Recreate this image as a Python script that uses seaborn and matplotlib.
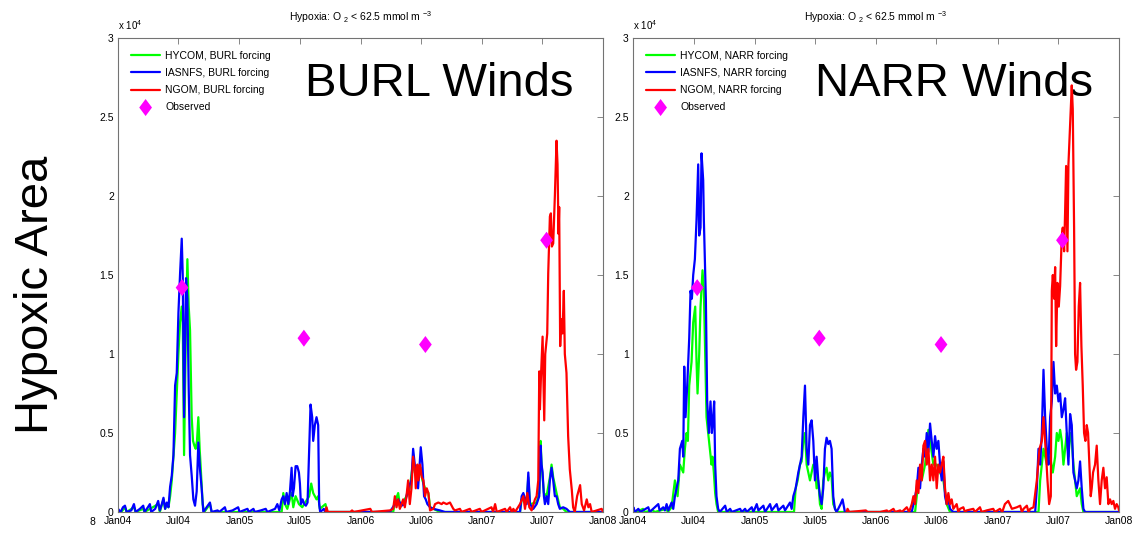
import numpy as np
import pandas as pd
import matplotlib
matplotlib.use("Agg")
import matplotlib.pyplot as plt
import matplotlib.dates as mdates
from matplotlib.ticker import FuncFormatter, MultipleLocator
import seaborn as sns

sns.set_style("white")
plt.rcParams["font.family"] = ["Liberation Sans Narrow", "Liberation Sans", "DejaVu Sans"]
plt.rcParams["mathtext.default"] = "regular"
plt.rcParams["text.color"] = "black"

# (day since 2004-01-01, hypoxic area in units of 1e4)
burl_hycom = [(0,0.01),(10,0),(21,0.03),(26,0),(48,0.03),(53,0),(76,0.02),(80,0),(121,0.05),(126,0),
              (137,0.08),(142,0.02),(147,0.05),(152,0.03),(157,0.1),(162,0.2),(167,0.35),(172,0.5),(177,0.75),
              (182,1.0),(187,1.2),(192,1.3),(195,1.2),(199,0.36),(205,1.2),(209,1.6),(213,1.3),(217,1.15),
              (222,0.6),(226,0.45),(230,0.42),(234,0.4),(238,0.45),(242,0.6),(246,0.4),(250,0.25),(255,0.05),
              (260,0),(277,0.05),(282,0),(493,0),(498,0.12),(503,0.05),(510,0.02),(523,0.12),(528,0.03),
              (535,0.1),(545,0.05),(555,0.03),(576,0.1),(582,0.18),(588,0.12),(598,0.08),(603,0.1),(608,0.02),
              (625,0.05),(630,0),(829,0),(834,0.06),(844,0.12),(850,0.03),(869,0.1),(879,0.15),(889,0.32),
              (894,0.25),(904,0.2),(912,0.28),(917,0.2),(925,0.15),(935,0.12),(940,0.03),(950,0.02),(970,0),
              (1211,0),(1216,0.08),(1221,0.1),(1231,0.06),(1236,0.22),(1241,0.05),(1261,0.06),(1269,0.12),
              (1273,0.45),(1276,0.3),(1283,0.12),(1291,0.1),(1301,0.22),(1306,0.3),(1311,0.22),(1321,0.12),
              (1331,0.03),(1341,0.02),(1351,0),(1461,0)]

burl_iasnfs = [(0,0.02),(8,0),(15,0.03),(21,0.04),(26,0),(40,0.01),(48,0.05),(53,0),(66,0.02),(76,0.04),
               (80,0),(90,0.03),(96,0.05),(100,0),(112,0.02),(121,0.07),(126,0.01),(132,0.05),(137,0.09),
               (142,0.02),(147,0.06),(152,0.03),(157,0.16),(162,0.23),(167,0.36),(172,0.8),(177,0.88),
               (182,1.26),(187,1.51),(192,1.73),(195,1.5),(199,0.6),(205,1.48),(209,1.35),(213,0.78),
               (217,0.36),(222,0.23),(227,0.08),(232,0.04),(237,0.13),(242,0.44),(247,0.27),(252,0.15),
               (257,0),(277,0.06),(282,0),(300,0.01),(305,0),(322,0.03),(326,0),(345,0.01),(362,0.03),
               (366,0),(390,0.02),(394,0),(408,0.02),(412,0),(430,0.01),(445,0.02),(450,0),(473,0.02),
               (480,0.05),(486,0.01),(493,0.08),(498,0.1),(503,0.05),(508,0.12),(513,0.05),(518,0.13),
               (523,0.28),(526,0.1),(530,0.15),(535,0.29),(540,0.29),(545,0.25),(548,0.18),(551,0.05),
               (556,0.08),(561,0.05),(566,0.04),(571,0.06),(576,0.4),(580,0.68),(585,0.6),(588,0.45),
               (593,0.55),(598,0.6),(603,0.55),(606,0.05),(609,0),(620,0.02),(624,0),(819,0),(834,0.05),
               (844,0.08),(854,0.04),(864,0.05),(874,0.15),(884,0.2),(889,0.4),(894,0.3),(899,0.25),
               (904,0.15),(912,0.41),(917,0.3),(922,0.1),(927,0.08),(932,0.05),(940,0.03),(950,0.02),
               (970,0.01),(985,0),(1211,0),(1216,0.1),(1221,0.12),(1231,0.05),(1236,0.25),(1241,0.05),
               (1251,0.02),(1261,0.05),(1269,0.1),(1273,0.42),(1276,0.3),(1279,0.25),(1283,0.1),(1286,0.05),
               (1291,0.1),(1296,0.05),(1301,0.2),(1306,0.28),(1311,0.2),(1316,0.1),(1321,0.1),(1326,0.05),
               (1331,0.02),(1341,0.03),(1351,0.02),(1361,0),(1461,0)]

burl_ngom = [(625,0),(628,0.03),(632,0),(700,0),(705,0.01),(710,0),(760,0.02),(765,0),(819,0.01),(829,0.02),
             (834,0.1),(839,0.03),(844,0.08),(849,0.02),(854,0.05),(859,0.08),(864,0.03),(869,0.1),(874,0.2),
             (879,0.05),(884,0.15),(889,0.35),(894,0.28),(897,0.15),(902,0.3),(905,0.2),(910,0.3),(915,0.22),
             (920,0.2),(925,0.1),(930,0.15),(935,0.12),(940,0.01),(950,0.02),(955,0.05),(965,0.06),(975,0.05),
             (980,0.06),(990,0.05),(1000,0.06),(1005,0.04),(1010,0.02),(1015,0.01),(1030,0.02),(1035,0),
             (1060,0.02),(1065,0),(1090,0.02),(1095,0),(1125,0.03),(1130,0),(1136,0.05),(1141,0),(1166,0.02),
             (1171,0),(1181,0.03),(1186,0),(1191,0.02),(1196,0),(1211,0.05),(1221,0.1),(1226,0.02),(1233,0.12),
             (1239,0.03),(1246,0.01),(1256,0.08),(1261,0.1),(1266,0.2),(1269,0.89),(1271,0.65),(1274,0.85),
             (1279,1.11),(1284,0.58),(1287,1.0),(1293,1.13),(1296,1.51),(1301,1.87),(1304,1.89),(1307,1.68),
             (1311,1.7),(1316,2.0),(1321,2.35),(1324,2.2),(1327,1.76),(1329,1.93),(1332,1.05),(1335,1.22),
             (1339,1.13),(1343,1.4),(1346,1.0),(1351,0.88),(1356,0.48),(1361,0.27),(1367,0.14),(1371,0.03),
             (1376,0),(1383,0.1),(1392,0.17),(1397,0.05),(1404,0.01),(1412,0.08),(1417,0.03),(1422,0.05),
             (1427,0),(1442,0.01),(1457,0.02),(1461,0)]

narr_hycom = [(0,0.01),(10,0),(30,0.02),(35,0),(60,0.01),(65,0),(100,0.02),(105,0),(116,0.03),(126,0.2),
              (134,0.1),(141,0.3),(151,0.25),(156,0.4),(161,0.5),(165,0.45),(169,0.8),(176,0.95),(181,1.2),
              (187,1.3),(191,0.95),(194,0.75),(199,1.0),(203,1.3),(209,1.53),(213,1.4),(217,1.0),(221,0.6),
              (226,0.5),(231,0.4),(236,0.3),(239,0.35),(243,0.25),(247,0.12),(251,0.05),(256,0),(484,0),
              (489,0.15),(495,0.2),(502,0.3),(507,0.32),(512,0.45),(517,0.5),(522,0.3),(527,0.25),(532,0.2),
              (537,0.25),(542,0.3),(547,0.28),(552,0.15),(557,0.2),(562,0.05),(567,0.02),(572,0.2),(577,0.25),
              (582,0.28),(587,0.2),(592,0.25),(597,0.22),(602,0.05),(612,0),(848,0),(853,0.1),(861,0.25),
              (868,0.2),(878,0.3),(888,0.52),(893,0.45),(903,0.3),(913,0.3),(923,0.25),(933,0.2),(943,0.05),
              (953,0),(1219,0),(1224,0.2),(1234,0.4),(1244,0.3),(1254,0.35),(1262,0.25),(1269,0.35),
              (1274,0.5),(1279,0.45),(1284,0.52),(1289,0.45),(1294,0.3),(1299,0.4),(1304,0.5),(1309,0.35),
              (1314,0.5),(1319,0.45),(1324,0.3),(1334,0.1),(1344,0.15),(1349,0.05),(1354,0),(1461,0)]

narr_iasnfs = [(0,0.01),(1,0.03),(6,0),(16,0.02),(22,0),(46,0.03),(50,0),(76,0.05),(80,0.01),(91,0.03),
               (96,0.01),(101,0.05),(106,0.01),(116,0.06),(121,0.02),(126,0.1),(136,0.2),(141,0.4),(148,0.45),
               (151,0.35),(154,0.92),(158,0.6),(163,0.8),(169,1.1),(173,1.4),(177,1.35),(181,1.5),(186,1.6),
               (191,1.85),(196,2.2),(199,1.75),(203,1.8),(206,2.27),(211,2.1),(213,1.85),(219,1.35),(223,0.7),
               (228,0.5),(233,0.7),(237,0.5),(241,0.6),(244,0.7),(247,0.3),(251,0.1),(256,0.02),(261,0),
               (277,0.04),(282,0),(292,0.02),(297,0),(322,0.02),(327,0),(337,0.02),(342,0),(357,0.03),(362,0),
               (372,0.05),(377,0.01),(392,0.04),(397,0),(412,0.05),(417,0.01),(432,0.05),(437,0.01),(452,0.04),
               (457,0.01),(472,0.06),(477,0.02),(482,0.1),(489,0.15),(497,0.25),(502,0.3),(507,0.35),(512,0.6),
               (517,0.8),(522,0.4),(527,0.3),(532,0.55),(537,0.58),(542,0.45),(547,0.2),(552,0.35),(557,0.2),
               (562,0.1),(567,0.05),(572,0.15),(577,0.4),(582,0.47),(587,0.43),(592,0.45),(597,0.4),(602,0.1),
               (607,0.02),(612,0),(617,0.02),(624,0.05),(630,0.08),(637,0),(838,0),(843,0.05),(853,0.15),
               (858,0.28),(863,0.15),(868,0.3),(873,0.4),(878,0.35),(883,0.5),(888,0.38),(893,0.56),(898,0.45),
               (903,0.35),(908,0.48),(913,0.4),(918,0.45),(923,0.3),(928,0.2),(933,0.32),(938,0.1),(943,0.05),
               (948,0.08),(953,0.02),(963,0),(1209,0),(1214,0.15),(1219,0.4),(1224,0.3),(1229,0.5),(1234,0.9),
               (1239,0.6),(1244,0.4),(1249,0.3),(1254,0.6),(1259,0.7),(1264,0.95),(1269,0.75),(1274,0.8),
               (1279,0.7),(1284,0.75),(1289,0.6),(1294,0.65),(1299,0.72),(1304,0.5),(1309,0.3),(1314,0.62),
               (1319,0.55),(1324,0.25),(1329,0.2),(1334,0.15),(1339,0.2),(1344,0.32),(1349,0.15),(1354,0.02),
               (1359,0),(1461,0)]

narr_ngom = [(642,0),(645,0.02),(650,0),(700,0.01),(705,0),(743,0),(763,0.01),(768,0),(783,0.02),(788,0),
             (803,0.01),(808,0),(823,0.03),(830,0),(838,0.05),(843,0.1),(848,0.05),(853,0.2),(858,0.12),
             (863,0.3),(868,0.2),(873,0.42),(878,0.45),(883,0.3),(888,0.4),(893,0.2),(898,0.3),(903,0.2),
             (908,0.35),(913,0.15),(918,0.3),(923,0.25),(928,0.3),(933,0.35),(938,0.15),(943,0.05),(948,0.12),
             (953,0.05),(958,0.08),(963,0.02),(973,0.05),(978,0),(983,0.02),(993,0.03),(998,0),(1003,0.01),
             (1023,0.02),(1028,0),(1043,0.03),(1048,0),(1063,0.01),(1083,0.02),(1088,0),(1103,0.02),(1110,0),
             (1118,0.05),(1128,0.07),(1139,0.02),(1154,0.03),(1164,0.04),(1169,0),(1174,0.02),(1184,0.04),
             (1189,0),(1194,0.02),(1204,0.03),(1214,0.2),(1222,0.4),(1229,0.45),(1234,0.6),(1242,0.35),
             (1246,0.2),(1251,0.05),(1256,0.1),(1259,1.4),(1262,1.5),(1266,1.35),(1269,1.55),(1272,1.05),
             (1276,1.45),(1280,1.3),(1284,1.43),(1289,1.75),(1292,1.8),(1296,1.65),(1299,1.9),(1302,2.19),
             (1306,1.65),(1309,2.2),(1314,2.45),(1319,2.7),(1322,2.55),(1326,1.8),(1329,1.0),(1332,0.9),
             (1336,0.95),(1340,1.3),(1344,1.45),(1348,1.05),(1352,0.8),(1356,0.5),(1360,0.45),(1364,0.55),
             (1368,0.5),(1372,0.3),(1376,0.1),(1379,0.15),(1383,0.25),(1389,0.3),(1394,0.42),(1399,0.2),
             (1404,0.05),(1409,0.2),(1414,0.28),(1419,0.15),(1424,0.22),(1429,0.05),(1434,0.08),(1439,0.05),
             (1444,0.07),(1449,0.02),(1454,0.05),(1459,0.03),(1461,0.01)]

obs_day = [193, 560, 926, 1291]
obs_area = [1.42, 1.10, 1.06, 1.72]

models = ["HYCOM", "IASNFS", "NGOM"]
colors = ["#00ff00", "#0000ff", "#ff0000"]
start = pd.Timestamp("2004-01-01")


def to_frame(pairs, label):
    d = pd.DataFrame(pairs, columns=["day", "area"])
    d["date"] = start + pd.to_timedelta(d["day"], unit="D")
    d["area"] = d["area"] * 1e4
    d["run"] = label
    return d


fig = plt.figure(figsize=(11.4, 5.33), dpi=100)
ax1 = fig.add_axes([118 / 1140, 21 / 533, 485 / 1140, 474 / 533])
ax2 = fig.add_axes([633 / 1140, 21 / 533, 486 / 1140, 474 / 533])

diamond = [(0, 1), (0.75, 0), (0, -1), (-0.75, 0), (0, 1)]
obs = pd.DataFrame({"date": start + pd.to_timedelta(obs_day, unit="D"),
                    "area": np.array(obs_area) * 1e4})

panels = [(ax1, "BURL", [burl_hycom, burl_iasnfs, burl_ngom], 0.386),
          (ax2, "NARR", [narr_hycom, narr_iasnfs, narr_ngom], 0.374)]

for ax, forcing, runs, tx in panels:
    labels = [f"{m}, {forcing} forcing" for m in models]
    df = pd.concat([to_frame(r, lab) for r, lab in zip(runs, labels)], ignore_index=True)
    sns.lineplot(data=df, x="date", y="area", hue="run", hue_order=labels, palette=colors,
                 estimator=None, linewidth=1.6, ax=ax)
    sns.scatterplot(data=obs, x="date", y="area", marker=diamond, s=150, color="#ff00ff",
                    edgecolor="none", label="Observed", zorder=5, ax=ax)

    ax.set_xlim(start, pd.Timestamp("2008-01-01"))
    ax.set_ylim(0, 3e4)
    ax.xaxis.set_major_locator(mdates.MonthLocator(bymonth=[1, 7]))
    ax.xaxis.set_major_formatter(mdates.DateFormatter("%b%y"))
    ax.yaxis.set_major_locator(MultipleLocator(5000))
    ax.yaxis.set_major_formatter(FuncFormatter(lambda v, p: f"{v / 1e4:g}"))
    ax.set_xlabel("")
    ax.set_ylabel("")
    ax.tick_params(direction="in", top=True, right=True, length=4, width=0.6, color="0.45",
                   labelcolor="black", labelsize=7.5, pad=3)
    for sp in ax.spines.values():
        sp.set_color("0.45")
        sp.set_linewidth(0.8)

    h, l = ax.get_legend_handles_labels()
    ax.legend(h, l, loc="upper left", frameon=False, fontsize=7.5, handlelength=2.8,
              handletextpad=0.5, labelspacing=0.68, borderaxespad=0.85)

    ax.set_title("Hypoxia: O $_2$ < 62.5 mmol m $^{-3}$", fontsize=7.5, pad=12)
    ax.text(0.0, 1.012, r"x 10$^4$", transform=ax.transAxes, fontsize=7, va="bottom")
    ax.text(tx, 0.878, f"{forcing} Winds", transform=ax.transAxes, fontsize=34,
            family="Liberation Sans", va="baseline", zorder=1)

fig.text(0.032, 0.446, "Hypoxic Area", rotation=90, fontsize=34, ha="center", va="center",
         family="Liberation Sans")
fig.text(92 / 1140, 1 - 522 / 533, "8", fontsize=7.5, ha="center", va="center")

fig.savefig("out.png", dpi=100)
